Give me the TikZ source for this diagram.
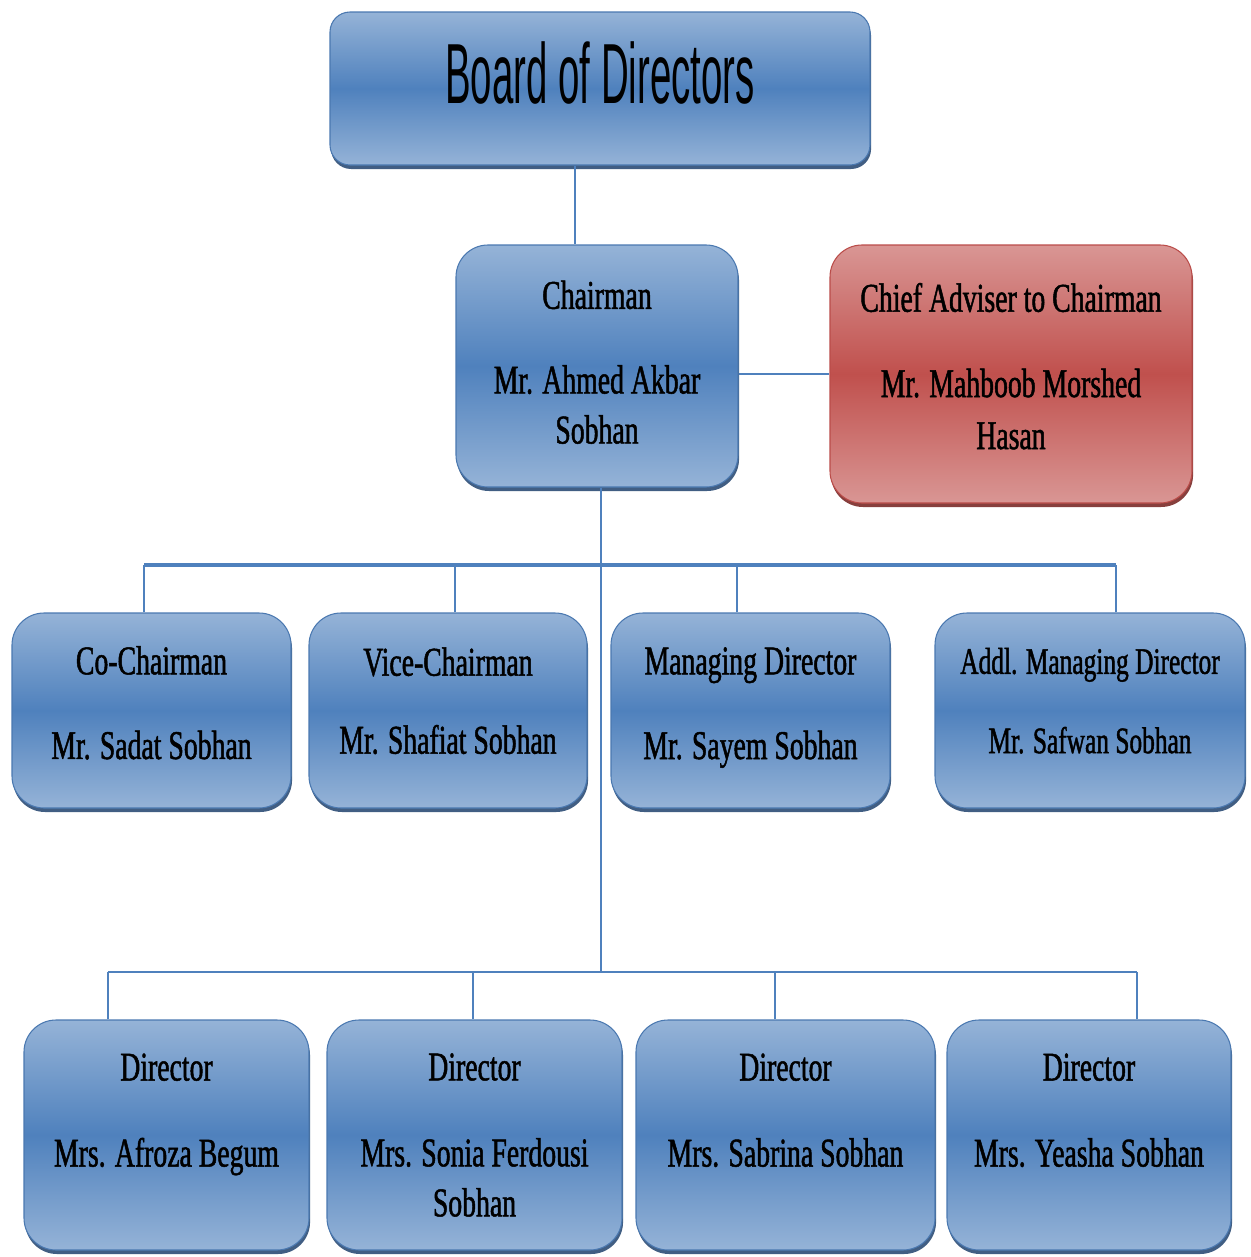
\documentclass[tikz,border=0pt]{standalone}
\usepackage{xcolor}
\usepackage{fontspec}
\usepackage{tikz}
\usetikzlibrary{shadows}
\newfontfamily\boxfont[FakeStretch=0.68,FakeBold=1.2]{Liberation Serif}
\newfontfamily\titlefont[FakeStretch=0.45]{Liberation Sans}
\definecolor{boxlight}{RGB}{149,179,215}
\definecolor{boxmid}{RGB}{79,129,189}
\definecolor{boxedge}{RGB}{74,120,176}
\definecolor{boxshade}{RGB}{44,77,117}
\definecolor{redlight}{RGB}{217,150,148}
\definecolor{redmid}{RGB}{192,80,77}
\definecolor{rededge}{RGB}{186,76,73}
\definecolor{redshade}{RGB}{122,42,40}
\definecolor{linkblue}{RGB}{79,129,189}

\begin{document}
\begin{tikzpicture}[x=0.75pt,y=0.75pt,yscale=-1,xscale=1,
    orgbox/.style={line width=0.8pt,rounded corners=24pt,inner sep=0pt,align=center,
        font=\boxfont\fontsize{30.6}{37.5}\selectfont},
    bluebox/.style={orgbox,draw=boxedge,top color=boxlight,bottom color=boxlight,middle color=boxmid,
        drop shadow={shadow xshift=0.8pt,shadow yshift=-3pt,fill=boxshade,opacity=0.9}},
    redbox/.style={orgbox,draw=rededge,top color=redlight,bottom color=redlight,middle color=redmid,
        drop shadow={shadow xshift=0.8pt,shadow yshift=-3pt,fill=redshade,opacity=0.9}},
    link/.style={draw=linkblue,line width=2pt},
    buslink/.style={draw=linkblue,line width=3pt}]
        \useasboundingbox (0,0) rectangle (1251,1257);

        %Shape: Rounded Rect [board]
        \node[bluebox,rounded corners=15pt,minimum width=405pt,minimum height=114.75pt,
            font=\titlefont\fontsize{64}{70}\selectfont,text depth=24pt] (board) at (600,88.5) {Board of Directors};
        %Shape: Rounded Rect [chairman]
        \node[bluebox,minimum width=211.5pt,minimum height=181.5pt,text depth=6pt] (chair) at (597,366)
            {Chairman\\[26pt]Mr. Ahmed Akbar\\Sobhan};
        %Shape: Rounded Rect [adviser]
        \node[redbox,minimum width=271.5pt,minimum height=193.5pt,text depth=12pt,
            font=\boxfont\fontsize{30.6}{39}\selectfont] (adviser) at (1011,374)
            {Chief Adviser to Chairman\\[25pt]Mr. Mahboob Morshed\\Hasan};

        %Shape: Rounded Rect [second row]
        \node[bluebox,minimum width=209.25pt,minimum height=146.25pt,text depth=12pt] (cochair) at (151.5,710.5)
            {Co-Chairman\\[26pt]Mr. Sadat Sobhan};
        \node[bluebox,minimum width=208.5pt,minimum height=146.25pt,text depth=15pt] (vicechair) at (448,710.5)
            {Vice-Chairman\\[21pt]Mr. Shafiat Sobhan};
        \node[bluebox,minimum width=209.25pt,minimum height=146.25pt,text depth=11pt] (md) at (750.5,710.5)
            {Managing Director\\[26pt]Mr. Sayem Sobhan};
        \node[bluebox,minimum width=232.5pt,minimum height=146.25pt,text depth=15pt,
            font=\boxfont\fontsize{28}{37.5}\selectfont] (addlmd) at (1090,710.5)
            {Addl. Managing Director\\[22pt]Mr. Safwan Sobhan};

        %Shape: Rounded Rect [third row]
        \node[bluebox,minimum width=213.75pt,minimum height=172.5pt] (dir1) at (166.5,1135)
            {Director\\[27pt]Mrs. Afroza Begum\\\mbox{}};
        \node[bluebox,minimum width=221.25pt,minimum height=172.5pt] (dir2) at (474.5,1135)
            {Director\\[27pt]Mrs. Sonia Ferdousi\\Sobhan};
        \node[bluebox,minimum width=224.25pt,minimum height=172.5pt] (dir3) at (785.5,1135)
            {Director\\[27pt]Mrs. Sabrina Sobhan\\\mbox{}};
        \node[bluebox,minimum width=213pt,minimum height=172.5pt] (dir4) at (1089,1135)
            {Director\\[27pt]Mrs. Yeasha Sobhan\\\mbox{}};

        \coordinate (bus1) at (601,565);
        \coordinate (bus2) at (601,972);

        %Straight Lines
        \draw[link] ([xshift=-18.75pt]board.south) -- ([xshift=-16.5pt]chair.north);
        %Straight Lines
        \draw[link] (chair.east |- adviser.west) -- (adviser.west);
        %Straight Lines
        \draw[link] ([xshift=3pt]chair.south) -- (bus2);
        %Straight Lines
        \draw[buslink] ([xshift=-5.6pt]cochair.north |- bus1) -- ([xshift=19.5pt]addlmd.north |- bus1);
        \draw[link] ([xshift=-5.6pt]cochair.north) -- ([xshift=-5.6pt]cochair.north |- bus1);
        \draw[link] ([xshift=5.25pt]vicechair.north) -- ([xshift=5.25pt]vicechair.north |- bus1);
        \draw[link] ([xshift=-10.1pt]md.north) -- ([xshift=-10.1pt]md.north |- bus1);
        \draw[link] ([xshift=19.5pt]addlmd.north) -- ([xshift=19.5pt]addlmd.north |- bus1);
        %Straight Lines
        \draw[link] ([xshift=-43.9pt]dir1.north |- bus2) -- ([xshift=36pt]dir4.north |- bus2);
        \draw[link] ([xshift=-43.9pt]dir1.north) -- ([xshift=-43.9pt]dir1.north |- bus2);
        \draw[link] ([xshift=-1.1pt]dir2.north) -- ([xshift=-1.1pt]dir2.north |- bus2);
        \draw[link] ([xshift=-7.9pt]dir3.north) -- ([xshift=-7.9pt]dir3.north |- bus2);
        \draw[link] ([xshift=36pt]dir4.north) -- ([xshift=36pt]dir4.north |- bus2);
\end{tikzpicture}
\end{document}
